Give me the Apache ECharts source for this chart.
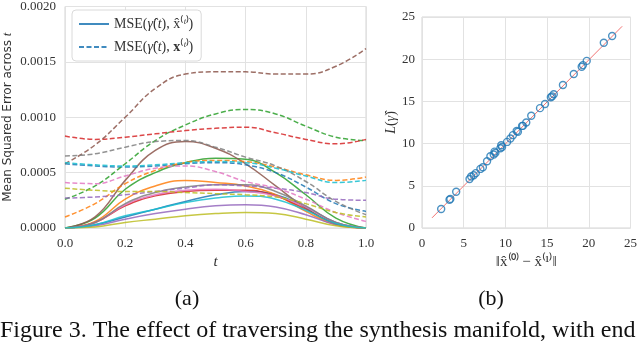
<!DOCTYPE html>
<html>
<head>
<meta charset="utf-8">
<script src="https://cdn.jsdelivr.net/npm/echarts@6/dist/echarts.min.js"></script>
<style>
  html, body { margin: 0; padding: 0; background: #fff; }
  #main { width: 640px; height: 343px; }
</style>
</head>
<body>
<div id="main"></div>
<script>
// (a) interpolation parameter t
const tValues = [0, 0.1, 0.2, 0.3, 0.4, 0.5, 0.6, 0.7, 0.8, 0.9, 1.0];

// solid: MSE(gamma_hat(t), x_hat^(t))
const solidBlue   = [0, 0.00003, 0.00010, 0.00017, 0.00024, 0.00030, 0.00033, 0.00030, 0.00019, 0.00005, 0];
const solidOrange = [0, 0.00006, 0.00026, 0.00038, 0.00043, 0.00041, 0.00038, 0.00030, 0.00015, 0.00003, 0];
const solidGreen  = [0, 0.00009, 0.00035, 0.00050, 0.00059, 0.00063, 0.00062, 0.00050, 0.00030, 0.00009, 0];
const solidRed    = [0, 0.00005, 0.00020, 0.00029, 0.00033, 0.00034, 0.00034, 0.00029, 0.00017, 0.00004, 0];
const solidPurple = [0, 0.00002, 0.00008, 0.00013, 0.00017, 0.00020, 0.00021, 0.00019, 0.00012, 0.00003, 0];
const solidBrown  = [0, 0.00010, 0.00043, 0.00070, 0.00078, 0.00072, 0.00058, 0.00038, 0.00018, 0.00004, 0];
const solidPink   = [0, 0.00005, 0.00021, 0.00030, 0.00034, 0.00035, 0.00033, 0.00029, 0.00019, 0.00005, 0];
const solidGray   = [0, 0.00005, 0.00022, 0.00032, 0.00037, 0.00039, 0.00039, 0.00033, 0.00020, 0.00005, 0];
const solidOlive  = [0, 0.00001, 0.00005, 0.00008, 0.00011, 0.00013, 0.00014, 0.00013, 0.00008, 0.00002, 0];
const solidCyan   = [0, 0.00003, 0.00011, 0.00017, 0.00023, 0.00027, 0.00029, 0.00026, 0.00016, 0.00004, 0];

// dashed: MSE(gamma_hat(t), x^(t))
const dashedBlue   = [0.00058, 0.00056, 0.00055, 0.00056, 0.00058, 0.00059, 0.00057, 0.00050, 0.00037, 0.00022, 0.00015];
const dashedOrange = [0.00010, 0.00022, 0.00040, 0.00052, 0.00059, 0.00061, 0.00060, 0.00055, 0.00048, 0.00043, 0.00046];
const dashedGreen  = [0.00026, 0.00038, 0.00058, 0.00079, 0.00093, 0.00103, 0.00107, 0.00103, 0.00092, 0.00082, 0.00079];
const dashedRed    = [0.00083, 0.00080, 0.00082, 0.00085, 0.00088, 0.00090, 0.00091, 0.00086, 0.00080, 0.00076, 0.00080];
const dashedPurple = [0.00027, 0.00028, 0.00030, 0.00033, 0.00036, 0.00039, 0.00038, 0.00036, 0.00032, 0.00026, 0.00025];
const dashedBrown  = [0.00058, 0.00075, 0.00100, 0.00126, 0.00139, 0.00141, 0.00141, 0.00139, 0.00139, 0.00146, 0.00162];
const dashedPink   = [0.00041, 0.00040, 0.00047, 0.00054, 0.00056, 0.00051, 0.00042, 0.00036, 0.00026, 0.00014, 0.00006];
const dashedGray   = [0.00065, 0.00067, 0.00073, 0.00078, 0.00079, 0.00073, 0.00064, 0.00056, 0.00042, 0.00024, 0.00012];
const dashedOlive  = [0.00036, 0.00034, 0.00033, 0.00033, 0.00032, 0.00031, 0.00030, 0.00028, 0.00022, 0.00014, 0.00010];
const dashedCyan   = [0.00059, 0.00057, 0.00056, 0.00057, 0.00059, 0.00060, 0.00059, 0.00054, 0.00047, 0.00041, 0.00043];

// (b) scatter: distance vs path length
const distValues = [2.3, 3.3, 3.4, 4.1, 5.7, 5.9, 6.2, 6.45, 7.0, 7.3, 7.8, 8.2, 8.6, 8.8, 8.7, 9.4, 9.6, 9.5,
  10.2, 10.6, 10.9, 11.35, 11.5, 12.0, 12.1, 12.5, 13.1, 14.15, 14.75, 15.45, 15.6, 15.8, 16.9, 18.2,
  19.15, 19.3, 19.75, 21.8, 22.8];
const lengthValues = [2.25, 3.35, 3.45, 4.3, 5.8, 6.1, 6.25, 6.5, 7.0, 7.2, 7.9, 8.5, 8.7, 8.9, 9.05, 9.45, 9.6, 9.8,
  10.2, 10.6, 11.0, 11.5, 11.4, 12.1, 12.1, 12.5, 13.3, 14.2, 14.7, 15.5, 15.6, 15.85, 16.95, 18.25,
  19.1, 19.3, 19.8, 21.95, 22.75];
const fitX = [1.2, 24];
const fitY = [1.2, 23.9];

const leftTicks = [0, 0.2, 0.4, 0.6, 0.8, 1.0];
const rightTicks = [0, 5, 10, 15, 20, 25];

const legendSolid = 'MSE(γ̂(t), x̂⁽ᵗ⁾)';
const legendDashed = 'MSE(γ̂(t), x⁽ᵗ⁾)';

const tab = {
  blue: '#1f77b4', orange: '#ff7f0e', green: '#2ca02c', red: '#d62728', purple: '#9467bd',
  brown: '#8c564b', pink: '#e377c2', gray: '#7f7f7f', olive: '#bcbd22', cyan: '#17becf'
};

const solids = [
  ['blue', solidBlue], ['orange', solidOrange], ['green', solidGreen], ['red', solidRed],
  ['purple', solidPurple], ['brown', solidBrown], ['pink', solidPink], ['gray', solidGray],
  ['olive', solidOlive], ['cyan', solidCyan]
];
const dasheds = [
  ['blue', dashedBlue], ['orange', dashedOrange], ['green', dashedGreen], ['red', dashedRed],
  ['purple', dashedPurple], ['brown', dashedBrown], ['pink', dashedPink], ['gray', dashedGray],
  ['olive', dashedOlive], ['cyan', dashedCyan]
];

function makeLine(name, values, color, dashed) {
  return {
    name: name,
    type: 'line',
    xAxisIndex: 0,
    yAxisIndex: 0,
    data: tValues.map((t, i) => [t, values[i]]),
    smooth: 0.45,
    symbol: 'none',
    silent: true,
    color: color,
    lineStyle: { color: color, width: 1.5, opacity: 0.85, type: dashed ? [5, 2.5] : 'solid' },
    z: 2
  };
}

const series = [];
solids.forEach(([c, v]) => {
  series.push(makeLine(c === 'blue' ? legendSolid : 'solid-' + c, v, tab[c], false));
});
dasheds.forEach(([c, v]) => {
  series.push(makeLine(c === 'blue' ? legendDashed : 'dashed-' + c, v, tab[c], true));
});

series.push({
  name: 'fit',
  type: 'line',
  xAxisIndex: 1,
  yAxisIndex: 1,
  data: fitX.map((x, i) => [x, fitY[i]]),
  symbol: 'none',
  silent: true,
  lineStyle: { color: '#f27474', width: 1 },
  z: 2
});
series.push({
  name: 'pairs',
  type: 'scatter',
  xAxisIndex: 1,
  yAxisIndex: 1,
  data: distValues.map((x, i) => [x, lengthValues[i]]),
  symbol: 'circle',
  symbolSize: 7,
  silent: true,
  itemStyle: { color: 'rgba(255,255,255,0)', borderColor: '#1f77b4', borderWidth: 1.4 },
  z: 3
});

const serif = 'Liberation Serif';
const gridLine = { lineStyle: { color: '#e2e2e2', width: 1 } };
const tickLabel = { fontFamily: serif, fontSize: 13, color: '#333' };

const option = {
  animation: false,
  backgroundColor: '#fff',
  grid: [
    { left: 65, top: 5, width: 301, height: 223, show: true, borderColor: '#d4d4d4', borderWidth: 1 },
    { left: 422, top: 17, width: 213, height: 211, show: true, borderColor: '#d4d4d4', borderWidth: 1 }
  ],
  legend: {
    data: [legendSolid, legendDashed],
    orient: 'vertical',
    left: 72,
    top: 10,
    padding: [7, 8, 7, 6],
    itemGap: 9,
    itemWidth: 30,
    itemHeight: 14,
    itemStyle: { opacity: 0 },
    backgroundColor: '#fff',
    borderColor: '#dadada',
    borderWidth: 1,
    borderRadius: 4,
    formatter: function (name) {
      return name === legendSolid
        ? 'MSE({i|γ̂}({i|t}), x̂⁽{i|ᵗ}⁾)'
        : 'MSE({i|γ̂}({i|t}), {b|x}⁽{i|ᵗ}⁾)';
    },
    textStyle: {
      fontFamily: serif, fontSize: 14, color: '#333',
      rich: {
        i: { fontFamily: serif, fontStyle: 'italic', fontSize: 14, color: '#333' },
        b: { fontFamily: serif, fontWeight: 'bold', fontSize: 14, color: '#333' }
      }
    }
  },
  xAxis: [
    {
      type: 'value', gridIndex: 0, min: 0, max: 1, interval: 0.2,
      axisLine: { show: false }, axisTick: { show: false },
      splitLine: gridLine,
      axisLabel: Object.assign({ margin: 9, formatter: v => leftTicks.includes(+v.toFixed(1)) ? v.toFixed(1) : '' }, tickLabel),
      name: 't', nameLocation: 'middle', nameGap: 25,
      nameTextStyle: { fontFamily: serif, fontStyle: 'italic', fontSize: 15, color: '#333' }
    },
    {
      type: 'value', gridIndex: 1, min: 0, max: 25, interval: 5,
      axisLine: { show: false }, axisTick: { show: false },
      splitLine: gridLine,
      axisLabel: Object.assign({ margin: 9, formatter: v => rightTicks.includes(v) ? String(v) : '' }, tickLabel),
      name: '‖x̂⁽⁰⁾ − x̂⁽¹⁾‖', nameLocation: 'middle', nameGap: 24,
      nameTextStyle: { fontFamily: serif, fontSize: 15, color: '#333' }
    }
  ],
  yAxis: [
    {
      type: 'value', gridIndex: 0, min: 0, max: 0.002, interval: 0.0005,
      axisLine: { show: false }, axisTick: { show: false },
      splitLine: gridLine,
      axisLabel: Object.assign({ margin: 9, formatter: v => v.toFixed(4) }, tickLabel),
      name: 'Mean Squared Error across {i|t}', nameLocation: 'middle', nameGap: 51, nameRotate: 90,
      nameTextStyle: {
        fontFamily: 'DejaVu Sans', fontSize: 12, color: '#333',
        rich: { i: { fontFamily: serif, fontStyle: 'italic', fontSize: 13, color: '#333' } }
      }
    },
    {
      type: 'value', gridIndex: 1, min: 0, max: 25, interval: 5,
      axisLine: { show: false }, axisTick: { show: false },
      splitLine: gridLine,
      axisLabel: Object.assign({ margin: 7 }, tickLabel),
      name: '{i|L}({i|γ̂})', nameLocation: 'middle', nameGap: 23, nameRotate: 90,
      nameTextStyle: {
        fontFamily: serif, fontSize: 14, color: '#333',
        rich: { i: { fontFamily: serif, fontStyle: 'italic', fontSize: 14, color: '#333' } }
      }
    }
  ],
  graphic: [
    { type: 'text', x: 187, y: 299, style: { text: '(a)', font: '22px "Liberation Serif"', fill: '#111', align: 'center', verticalAlign: 'middle' } },
    { type: 'text', x: 491, y: 299, style: { text: '(b)', font: '22px "Liberation Serif"', fill: '#111', align: 'center', verticalAlign: 'middle' } },
    { type: 'text', x: 0, y: 331, style: { text: 'Figure 3. The effect of traversing the synthesis manifold, with end', font: '24px "Liberation Serif"', fill: '#111', align: 'left', verticalAlign: 'middle' } }
  ],
  series: series
};

const chart = echarts.init(document.getElementById('main'), null, { renderer: 'canvas' });
chart.setOption(option);
</script>
</body>
</html>
